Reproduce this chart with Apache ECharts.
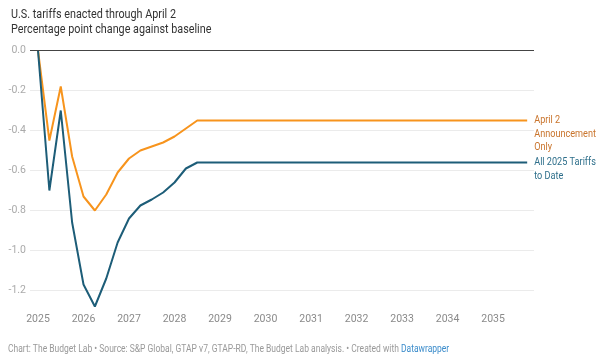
<!DOCTYPE html>
<html>
<head>
<meta charset="utf-8">
<script src="https://cdn.jsdelivr.net/npm/echarts@6/dist/echarts.min.js"></script>
<style>
html,body{margin:0;padding:0;background:#fff;}
#chart{width:599px;height:359px;}
</style>
</head>
<body>
<div id="chart"></div>
<script>
// Quarterly periods (decimal years)
const periods = [
  2025.00, 2025.25, 2025.50, 2025.75,
  2026.00, 2026.25, 2026.50, 2026.75,
  2027.00, 2027.25, 2027.50, 2027.75,
  2028.00, 2028.25, 2028.50, 2028.75,
  2029.00, 2029.25, 2029.50, 2029.75,
  2030.00, 2030.25, 2030.50, 2030.75,
  2031.00, 2031.25, 2031.50, 2031.75,
  2032.00, 2032.25, 2032.50, 2032.75,
  2033.00, 2033.25, 2033.50, 2033.75,
  2034.00, 2034.25, 2034.50, 2034.75,
  2035.00, 2035.25, 2035.50, 2035.75
];
const april2Only = [
  0, -0.45, -0.18, -0.53,
  -0.73, -0.80, -0.72, -0.61,
  -0.54, -0.50, -0.48, -0.46,
  -0.43, -0.39, -0.35, -0.35,
  -0.35, -0.35, -0.35, -0.35,
  -0.35, -0.35, -0.35, -0.35,
  -0.35, -0.35, -0.35, -0.35,
  -0.35, -0.35, -0.35, -0.35,
  -0.35, -0.35, -0.35, -0.35,
  -0.35, -0.35, -0.35, -0.35,
  -0.35, -0.35, -0.35, -0.35
];
const all2025 = [
  0, -0.70, -0.30, -0.86,
  -1.17, -1.28, -1.14, -0.96,
  -0.84, -0.775, -0.745, -0.71,
  -0.66, -0.59, -0.56, -0.56,
  -0.56, -0.56, -0.56, -0.56,
  -0.56, -0.56, -0.56, -0.56,
  -0.56, -0.56, -0.56, -0.56,
  -0.56, -0.56, -0.56, -0.56,
  -0.56, -0.56, -0.56, -0.56,
  -0.56, -0.56, -0.56, -0.56,
  -0.56, -0.56, -0.56, -0.56
];
const xTickLabels = [2025, 2026, 2027, 2028, 2029, 2030, 2031, 2032, 2033, 2034, 2035];
const yTickValues = [0, -0.2, -0.4, -0.6, -0.8, -1.0, -1.2];
const seriesNames = ['April 2\nAnnouncement\nOnly', 'All 2025 Tariffs\nto Date'];
const titleText = 'U.S. tariffs enacted through April 2\nPercentage point change against baseline';
const footerText = 'Chart: The Budget Lab • Source: S&P Global, GTAP v7, GTAP-RD, The Budget Lab analysis. • Created with ';
const footerLink = 'Datawrapper';

const FONT = 'Roboto, "Noto Sans", sans-serif';
const SQUEEZE = 0.83;
const chart = echarts.init(document.getElementById('chart'), null, {renderer: 'canvas'});

function pairs(ys) { return periods.map((p, i) => [p, ys[i]]); }

chart.setOption({
  animation: false,
  backgroundColor: '#fff',
  grid: {left: 30, right: 65, top: 50.5, bottom: 48.5},
  xAxis: {
    type: 'value',
    min: 2025 - 8 / 45.5,
    max: 2035.9,
    axisLine: {show: false},
    axisTick: {show: false, customValues: xTickLabels},
    splitLine: {show: false},
    axisLabel: {
      customValues: xTickLabels,
      fontFamily: FONT, fontSize: 10.5, color: '#8a8a8a', margin: 3,
      formatter: v => String(v)
    }
  },
  yAxis: {
    type: 'value',
    min: -1.3,
    max: 0,
    axisLine: {show: false},
    axisTick: {show: false, customValues: yTickValues},
    splitLine: {show: true, lineStyle: {color: '#ebebeb', width: 1}},
    axisLabel: {
      customValues: yTickValues,
      fontFamily: FONT, fontSize: 10.5, color: '#aaa', margin: 4,
      formatter: v => (Math.abs(v) < 1e-9 ? '0.0' : v.toFixed(1))
    }
  },
  series: [
    {
      name: seriesNames[0],
      type: 'line',
      data: pairs(april2Only),
      symbol: 'none',
      lineStyle: {color: '#f7941d', width: 2},
      itemStyle: {color: '#f7941d'},
      z: 3,
      markLine: {
        silent: true, symbol: 'none', label: {show: false},
        lineStyle: {color: '#444', width: 1.2, type: 'solid'},
        data: [{yAxis: 0}]
      }
    },
    {
      name: seriesNames[1],
      type: 'line',
      data: pairs(all2025),
      symbol: 'none',
      lineStyle: {color: '#1d5d78', width: 2},
      itemStyle: {color: '#1d5d78'},
      z: 4
    }
  ]
});

// Direct labels anchored to the last data point of each series
const n = periods.length;
const pA = chart.convertToPixel({gridIndex: 0}, [periods[n - 1], april2Only[n - 1]]);
const pB = chart.convertToPixel({gridIndex: 0}, [periods[n - 1], all2025[n - 1]]);
const LH = 13.5;

chart.setOption({
  graphic: [
    {
      type: 'text', x: 11, y: 7, scaleX: SQUEEZE,
      style: {text: titleText, fontFamily: FONT, fontSize: 13, lineHeight: 15, fill: '#333', verticalAlign: 'top'}
    },
    {
      type: 'text', x: pA[0] + 7, y: pA[1] - LH / 2, scaleX: SQUEEZE,
      style: {text: seriesNames[0], fontFamily: FONT, fontSize: 11, lineHeight: LH, fill: '#c9742c', verticalAlign: 'top'}
    },
    {
      type: 'text', x: pB[0] + 7, y: pB[1] - LH / 2, scaleX: SQUEEZE,
      style: {text: seriesNames[1], fontFamily: FONT, fontSize: 11, lineHeight: LH, fill: '#2e6f8b', verticalAlign: 'top'}
    },
    {
      type: 'text', x: 8, y: 344, scaleX: 0.85,
      style: {
        text: '{a|' + footerText + '}{b|' + footerLink + '}',
        verticalAlign: 'top',
        rich: {
          a: {fontFamily: FONT, fontSize: 10, fill: '#999'},
          b: {fontFamily: FONT, fontSize: 10, fill: '#3b8ccb'}
        }
      }
    }
  ]
});
</script>
</body>
</html>
